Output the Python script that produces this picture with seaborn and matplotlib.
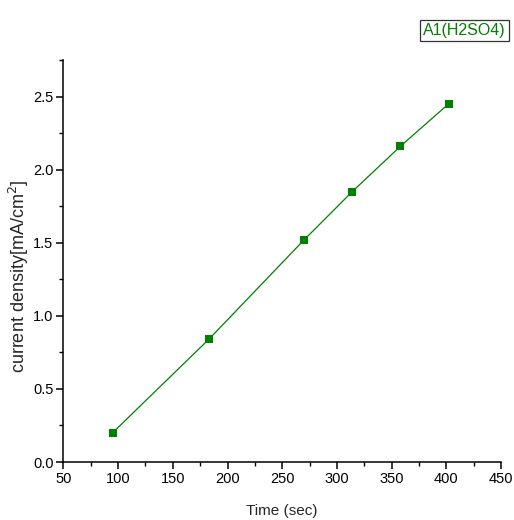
import pandas
import seaborn as sns
from matplotlib import pyplot as plt
from matplotlib.ticker import MultipleLocator

time_sec = [95, 183, 270, 314, 358, 402]
current_density = [0.20, 0.84, 1.52, 1.85, 2.16, 2.45]
series_name = "A1(H2SO4)"

green = "#008000"

sns.set_theme(style="ticks")
plt.rcParams["font.family"] = ["Liberation Sans", "DejaVu Sans"]

data = pandas.DataFrame({"time": time_sec, "cd": current_density})

fig = plt.figure(figsize=(5.14, 5.20), dpi=100)
ax = fig.add_axes([0.1232, 0.1115, 0.8518, 0.7731])

sns.lineplot(data=data, x="time", y="cd", ax=ax, color=green, linewidth=0.9,
             marker="s", markersize=5.6, markeredgewidth=0, markerfacecolor=green)

ax.set_xlim(50, 450)
ax.set_ylim(0, 2.75)
ax.xaxis.set_major_locator(MultipleLocator(50))
ax.xaxis.set_minor_locator(MultipleLocator(25))
ax.yaxis.set_major_locator(MultipleLocator(0.5))
ax.yaxis.set_minor_locator(MultipleLocator(0.25))
ax.yaxis.set_major_formatter(plt.FormatStrFormatter("%.1f"))

for side in ["top", "right"]:
    ax.spines[side].set_visible(False)
for side in ["left", "bottom"]:
    ax.spines[side].set_color("black")
    ax.spines[side].set_linewidth(1.1)

ax.tick_params(which="major", direction="out", length=5, width=1.1, colors="black",
               labelsize=10.5, pad=2)
ax.tick_params(which="minor", direction="out", length=3, width=1.0, colors="black")

ax.set_xlabel("Time (sec)", fontsize=11, labelpad=13)
ax.set_ylabel("current density[mA/cm$^2$]", fontsize=13)
ax.yaxis.set_label_coords(-0.074, 0.463)

fig.text(0.9845, 0.941, series_name, color=green, fontsize=11.5, ha="right", va="center",
         bbox=dict(boxstyle="square,pad=0.2", facecolor="white", edgecolor="#333333", linewidth=0.9))

fig.savefig("out.png", dpi=100)
